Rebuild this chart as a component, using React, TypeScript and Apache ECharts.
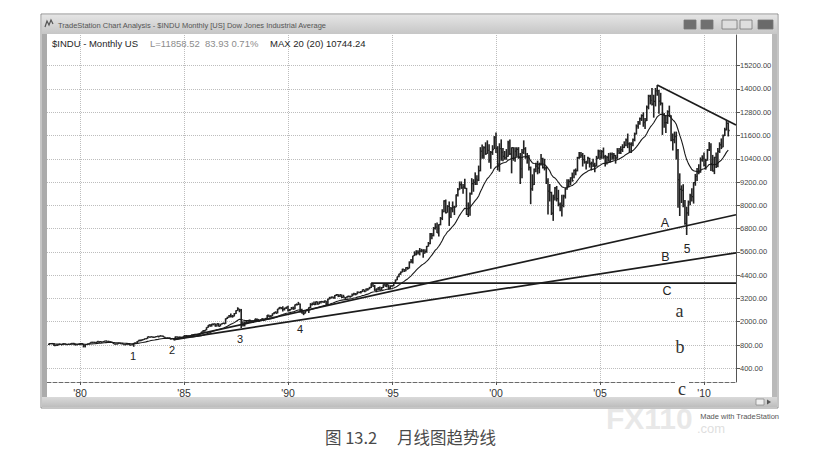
import React, { useEffect, useRef } from "react";
import * as echarts from "echarts";

// ---------- data (monthly, starting Jul 1978) ----------
const yTickValues = [400, 800, 2000, 3200, 4400, 5600, 6800, 8000, 9200, 10400, 11600, 12800, 14000, 15200];
const xTickYears = [1980, 1985, 1990, 1995, 2000, 2005, 2010];
const xTickLabels = ["'80", "'85", "'90", "'95", "'00", "'05", "'10"];

const closes = [
  862, 877, 866, 792, 799, 805,
  839, 809, 862, 855, 822, 842, 846, 888, 879, 816, 822, 839,
  876, 863, 786, 817, 851, 868, 935, 933, 932, 924, 993, 964,
  947, 975, 1004, 998, 992, 977, 952, 881, 850, 853, 889, 875,
  871, 824, 823, 848, 820, 812, 809, 901, 896, 992, 1039, 1047,
  1076, 1113, 1130, 1226, 1200, 1222, 1199, 1216, 1233, 1225, 1276, 1259,
  1221, 1155, 1165, 1171, 1105, 1132, 1115, 1224, 1207, 1207, 1189, 1212,
  1287, 1284, 1267, 1258, 1315, 1335, 1347, 1334, 1329, 1374, 1472, 1547,
  1571, 1709, 1819, 1784, 1877, 1893, 1775, 1898, 1768, 1878, 1914, 1896,
  2158, 2224, 2305, 2286, 2292, 2419, 2572, 2663, 2596, 1994, 1834, 1939,
  1958, 2072, 1988, 2032, 2031, 2142, 2129, 2032, 2113, 2149, 2115, 2169,
  2342, 2258, 2294, 2419, 2480, 2440, 2661, 2737, 2693, 2645, 2706, 2753,
  2591, 2627, 2707, 2657, 2877, 2881, 2905, 2614, 2452, 2442, 2560, 2634,
  2736, 2882, 2914, 2888, 3028, 2907, 3025, 3044, 3017, 3069, 2895, 3169,
  3223, 3268, 3235, 3359, 3397, 3319, 3394, 3257, 3272, 3226, 3305, 3301,
  3310, 3371, 3435, 3428, 3527, 3516, 3539, 3651, 3555, 3681, 3684, 3754,
  3978, 3832, 3636, 3682, 3758, 3625, 3765, 3913, 3843, 3908, 3739, 3834,
  3844, 4011, 4158, 4321, 4465, 4556, 4708, 4611, 4789, 4755, 5074, 5117,
  5395, 5486, 5587, 5569, 5643, 5655, 5529, 5616, 5882, 6029, 6522, 6448,
  6813, 6878, 6583, 7009, 7331, 7673, 8223, 7622, 7945, 7442, 7823, 7908,
  7907, 8546, 8800, 9063, 8900, 8952, 8883, 7539, 7843, 8592, 9117, 9181,
  9359, 9307, 9786, 10789, 10560, 10971, 10655, 10829, 10337, 10730, 10878, 11497,
  10941, 10128, 10922, 10734, 10522, 10448, 10522, 11215, 10651, 10971, 10414, 10788,
  10887, 10495, 9879, 10735, 10912, 10502, 10523, 9950, 8848, 9075, 9852, 10022,
  9920, 10106, 10404, 9946, 9925, 9243, 8737, 8664, 7592, 8397, 8896, 8342,
  8054, 7891, 7992, 8480, 8850, 8985, 9234, 9416, 9275, 9801, 9782, 10454,
  10488, 10584, 10358, 10226, 10188, 10435, 10140, 10174, 10080, 10027, 10428, 10783,
  10490, 10766, 10504, 10193, 10467, 10275, 10641, 10482, 10569, 10440, 10806, 10718,
  10865, 10993, 11109, 11367, 11168, 11150, 11186, 11381, 11679, 12081, 12222, 12463,
  12622, 12269, 12354, 13063, 13628, 13409, 13212, 13358, 13896, 13930, 13372, 13265,
  12650, 12266, 12263, 12820, 12638, 11350, 11378, 11544, 10851, 9325, 8829, 8776,
  8001, 7063, 7609, 8168, 8500, 8447, 9172, 9496, 9712, 9713, 10345, 10428,
  10067, 10325, 10857, 11009, 10137, 9774, 10466, 10015, 10788, 11118, 11006, 11578,
  11892, 12226, 11859,
];

const highs = [
  866, 892, 908, 902, 815, 821,
  858, 845, 866, 878, 860, 852, 853, 890, 898, 897, 830, 848,
  893, 903, 870, 825, 856, 887, 940, 967, 965, 965, 1000, 1000,
  1004, 978, 1015, 1031, 1000, 1012, 971, 955, 882, 880, 892, 895,
  882, 872, 836, 870, 871, 825, 842, 903, 939, 1008, 1072, 1080,
  1103, 1123, 1145, 1233, 1240, 1250, 1243, 1222, 1265, 1287, 1287, 1290,
  1287, 1225, 1190, 1180, 1185, 1145, 1140, 1245, 1240, 1230, 1235, 1220,
  1292, 1310, 1300, 1290, 1322, 1342, 1372, 1362, 1345, 1380, 1478, 1560,
  1575, 1715, 1830, 1880, 1895, 1905, 1915, 1905, 1925, 1885, 1940, 1960,
  2175, 2260, 2345, 2420, 2350, 2450, 2590, 2746, 2670, 2660, 2010, 2020,
  2050, 2090, 2110, 2065, 2065, 2160, 2160, 2140, 2125, 2185, 2165, 2190,
  2350, 2365, 2340, 2425, 2505, 2545, 2665, 2755, 2765, 2800, 2720, 2770,
  2820, 2660, 2760, 2780, 2890, 2945, 3025, 2935, 2670, 2540, 2580, 2660,
  2750, 2960, 2990, 3040, 3045, 3050, 3040, 3070, 3065, 3090, 3080, 3180,
  3285, 3300, 3300, 3380, 3430, 3420, 3420, 3400, 3390, 3280, 3320, 3350,
  3340, 3460, 3490, 3480, 3560, 3550, 3580, 3660, 3660, 3710, 3730, 3800,
  3990, 3990, 3900, 3720, 3780, 3820, 3790, 3930, 3960, 3950, 3920, 3880,
  3900, 4030, 4175, 4330, 4470, 4590, 4730, 4720, 4810, 4830, 5110, 5240,
  5400, 5630, 5690, 5690, 5800, 5760, 5740, 5740, 5910, 6110, 6570, 6580,
  6880, 7080, 7110, 7030, 7400, 7800, 8260, 8300, 8010, 8200, 7920, 8200,
  7980, 8560, 8900, 9230, 9230, 9100, 9370, 8900, 8150, 8660, 9400, 9350,
  9700, 9550, 10050, 11000, 11130, 11050, 11250, 11350, 11150, 10800, 11100, 11570,
  11750, 11050, 11200, 11400, 10950, 10800, 10900, 11330, 11400, 10990, 11000, 11000,
  11000, 11000, 10700, 10900, 11350, 11000, 10700, 10600, 10000, 9600, 9900, 10200,
  10300, 10200, 10650, 10450, 10400, 10000, 9400, 9100, 8700, 8550, 8950, 9000,
  8800, 8150, 8550, 8550, 8900, 9350, 9350, 9450, 9690, 9850, 9900, 10500,
  10750, 10750, 10700, 10600, 10300, 10500, 10450, 10250, 10400, 10200, 10550, 10870,
  10870, 10850, 10980, 10600, 10550, 10700, 10720, 10720, 10700, 10600, 10950, 10950,
  11050, 11150, 11300, 11450, 11700, 11250, 11250, 11450, 11750, 12170, 12350, 12530,
  12690, 12800, 12500, 13150, 13700, 13700, 14050, 13700, 14050, 14198, 13950, 13800,
  13300, 12760, 12620, 12900, 13140, 12650, 11700, 11800, 11800, 10900, 9650, 9030,
  9090, 8280, 7930, 8250, 8600, 8880, 9200, 9620, 9920, 10120, 10470, 10580,
  10730, 10400, 10900, 11260, 11200, 10600, 10500, 10720, 10950, 11250, 11450, 11650,
  12000, 12390, 12280,
];

const lows = [
  805, 858, 857, 785, 782, 784,
  803, 803, 806, 848, 818, 820, 824, 843, 865, 798, 796, 819,
  819, 854, 759, 759, 805, 844, 866, 917, 916, 914, 918, 908,
  938, 931, 965, 984, 960, 966, 940, 875, 824, 836, 845, 868,
  837, 820, 795, 818, 815, 788, 800, 770, 892, 890, 985, 990,
  1026, 1060, 1100, 1118, 1185, 1195, 1180, 1170, 1208, 1210, 1220, 1240,
  1210, 1135, 1130, 1135, 1100, 1090, 1078, 1110, 1190, 1175, 1180, 1160,
  1180, 1265, 1245, 1245, 1240, 1300, 1325, 1310, 1298, 1320, 1370, 1450,
  1480, 1560, 1690, 1745, 1750, 1815, 1750, 1760, 1750, 1760, 1860, 1880,
  1890, 2140, 2210, 2220, 2210, 2270, 2400, 2560, 2490, 1677, 1750, 1760,
  1880, 1940, 1970, 1960, 1940, 2020, 2085, 1990, 2020, 2100, 2040, 2100,
  2140, 2240, 2240, 2280, 2390, 2425, 2430, 2640, 2650, 2530, 2580, 2660,
  2530, 2540, 2620, 2620, 2640, 2840, 2860, 2480, 2430, 2340, 2420, 2540,
  2450, 2710, 2840, 2860, 2860, 2880, 2900, 2940, 2990, 2970, 2860, 2840,
  3150, 3200, 3200, 3180, 3330, 3270, 3280, 3220, 3240, 3120, 3210, 3260,
  3240, 3300, 3370, 3360, 3410, 3470, 3460, 3530, 3530, 3560, 3600, 3670,
  3740, 3800, 3590, 3520, 3630, 3610, 3620, 3740, 3820, 3780, 3660, 3680,
  3800, 3830, 3980, 4140, 4290, 4420, 4540, 4560, 4600, 4680, 4740, 5010,
  5000, 5390, 5420, 5460, 5420, 5590, 5300, 5520, 5560, 5870, 5990, 6250,
  6400, 6750, 6570, 6390, 6970, 7240, 7640, 7580, 7620, 6940, 7350, 7640,
  7500, 7900, 8450, 8800, 8850, 8600, 8850, 7500, 7400, 7470, 8550, 8700,
  9050, 9050, 9250, 9750, 10400, 10400, 10600, 10650, 10200, 9880, 10600, 10900,
  10700, 9800, 9730, 10300, 10270, 10350, 10350, 10500, 10600, 9650, 10300, 10250,
  10500, 10400, 9100, 9400, 10650, 10400, 10150, 9800, 8060, 8750, 9050, 9700,
  9600, 9650, 10050, 9900, 9800, 9100, 7530, 8200, 7500, 7200, 8250, 8200,
  7950, 7700, 7420, 7900, 8350, 8800, 8950, 9050, 9220, 9400, 9550, 9750,
  10400, 10450, 10000, 10150, 9850, 10150, 9950, 9800, 9980, 9700, 10000, 10400,
  10350, 10400, 10400, 10000, 10100, 10250, 10200, 10350, 10350, 10150, 10400, 10650,
  10650, 10750, 10950, 11050, 10950, 10700, 10700, 11050, 11300, 11650, 11950, 12150,
  12350, 12050, 11940, 12350, 12950, 13200, 13150, 12520, 13100, 13650, 12720, 13150,
  11630, 12000, 11730, 12200, 12550, 11300, 10830, 11200, 10360, 7880, 7450, 8120,
  7900, 7000, 6470, 7460, 8000, 8200, 8090, 9010, 9250, 9600, 9680, 10250,
  10000, 9840, 10300, 10800, 9770, 9740, 9610, 9930, 9970, 10700, 10900, 11000,
  11580, 11860, 11550,
];

// trend lines: two anchor points [month, price], extended to the right edge
const trendA: [string, number][] = [["1984-07", 1078], ["2009-03", 6950]];
const trendB: [string, number][] = [["1984-07", 1078], ["2009-03", 5160]];
const trendC: [string, number][] = [["1994-01", 3990], ["2011-03", 3990]];
const trendTop: [string, number][] = [["2007-10", 14198], ["2011-02", 12391]];

const EMA_LEN = 20;

// ---------- helpers ----------
const idxOf = (s: string) => {
  const [y, m] = s.split("-").map(Number);
  return (y - 1978) * 12 + (m - 7);
};
// the TradeStation price scale: equally spaced labels, linear between them
function toSlot(p: number) {
  const v = yTickValues;
  if (p <= v[1]) return (p - v[0]) / (v[1] - v[0]);
  for (let i = 1; i < v.length - 1; i++) {
    if (p <= v[i + 1]) return i + (p - v[i]) / (v[i + 1] - v[i]);
  }
  const n = v.length - 1;
  return n + (p - v[n]) / (v[n] - v[n - 1]);
}

const X_MIN = -1.04;
const X_MAX = 396.46;
const Y_MIN = -0.588;
const Y_MAX = 14.317;

function lineData(pts: [string, number][]) {
  const x1 = idxOf(pts[0][0]);
  const y1 = toSlot(pts[0][1]);
  const x2 = idxOf(pts[1][0]);
  const y2 = toSlot(pts[1][1]);
  const k = (y2 - y1) / (x2 - x1);
  return [
    [x1, y1],
    [X_MAX, y1 + k * (X_MAX - x1)],
  ];
}

const SANS = "'Liberation Sans', Arial, Helvetica, sans-serif";
const SERIF = "'Liberation Serif', 'Times New Roman', serif";
const CJK = "'Noto Sans CJK SC', sans-serif";

function txt(text: string, x: number, y: number, size: number, fill: string, extra: any = {}) {
  return {
    type: "text",
    x,
    y,
    z: extra.z || 100,
    silent: true,
    style: {
      text,
      fill,
      fontSize: size,
      fontFamily: extra.fontFamily || SANS,
      fontWeight: extra.fontWeight || "normal",
      align: extra.align || "left",
      textAlign: extra.align || "left",
      verticalAlign: "middle",
      textVerticalAlign: "middle",
    },
  };
}

export default function App() {
  const ref = useRef<HTMLDivElement>(null);

  useEffect(() => {
    if (!ref.current) return;
    const chart = echarts.init(ref.current, undefined, { renderer: "svg" });

    const bars = closes.map((c, i) => [i, toSlot(highs[i]), toSlot(lows[i]), toSlot(c)]);
    const alpha = 2 / (EMA_LEN + 1);
    let e = closes[0];
    const ema = closes.map((c, i) => {
      e = i === 0 ? c : e + alpha * (c - e);
      return [i, toSlot(e)];
    });

    const xTickIdx = xTickYears.map((y) => idxOf(`${y}-01`));
    const ySlots = yTickValues.map((_, i) => i);

    const trendStyle = { color: "#1c1c1c", width: 1.7 };

    const option: any = {
      animation: false,
      backgroundColor: "#ffffff",
      textStyle: { fontFamily: SANS },
      grid: { left: 47, right: 77, top: 35, bottom: 89, containLabel: false },
      xAxis: {
        type: "value",
        min: X_MIN,
        max: X_MAX,
        axisLine: { show: true, onZero: false, lineStyle: { color: "#6a6a6a", type: "dashed", width: 1 } },
        axisTick: { show: true, customValues: xTickIdx, length: 3, lineStyle: { color: "#555" } },
        axisLabel: {
          customValues: xTickIdx,
          formatter: (v: number) => {
            const k = xTickIdx.indexOf(Math.round(v));
            return k >= 0 ? xTickLabels[k] : "";
          },
          color: "#333",
          fontSize: 10.5,
          fontFamily: SANS,
          margin: 5,
        },
        splitLine: { show: false },
      },
      yAxis: {
        type: "value",
        position: "right",
        min: Y_MIN,
        max: Y_MAX,
        axisLine: { show: true, onZero: false, lineStyle: { color: "#555", width: 1 } },
        axisTick: { show: true, customValues: ySlots, length: 4, lineStyle: { color: "#555" } },
        axisLabel: {
          customValues: ySlots,
          formatter: (v: number) => {
            const k = Math.round(v);
            return yTickValues[k] !== undefined ? yTickValues[k].toFixed(2) : "";
          },
          color: "#444",
          fontSize: 7.5,
          fontFamily: SANS,
          margin: 4,
        },
        splitLine: { show: false },
      },
      series: [
        {
          type: "line",
          data: [],
          z: 1,
          silent: true,
          markLine: {
            silent: true,
            z: 1,
            symbol: ["none", "none"],
            label: { show: false },
            lineStyle: { color: "#bdbdbd", type: "dotted", width: 1 },
            data: [
              ...ySlots.map((s) => ({ yAxis: s })),
              ...xTickIdx.map((i) => ({ xAxis: i })),
            ],
          },
        },
        {
          type: "custom",
          z: 3,
          clip: true,
          silent: true,
          encode: { x: 0, y: [1, 2] },
          data: bars,
          renderItem: (_params: any, api: any) => {
            const x = api.value(0);
            const hi = api.coord([x, api.value(1)]);
            const lo = api.coord([x, api.value(2)]);
            const cl = api.coord([x, api.value(3)]);
            return {
              type: "group",
              children: [
                {
                  type: "line",
                  shape: { x1: hi[0], y1: hi[1], x2: lo[0], y2: lo[1] },
                  style: { stroke: "#222222", lineWidth: 1.6 },
                },
                {
                  type: "line",
                  shape: { x1: cl[0], y1: cl[1], x2: cl[0] + 1.4, y2: cl[1] },
                  style: { stroke: "#222222", lineWidth: 1.3 },
                },
              ],
            };
          },
        },
        {
          type: "line",
          data: ema,
          z: 4,
          symbol: "none",
          silent: true,
          lineStyle: { color: "#1a1a1a", width: 1.1 },
        },
        ...[trendA, trendB, trendC, trendTop].map((t) => ({
          type: "line",
          data: lineData(t),
          z: 5,
          symbol: "none",
          silent: true,
          lineStyle: trendStyle,
        })),
      ],
      graphic: [
        // window chrome
        {
          type: "rect",
          z: 50,
          silent: true,
          shape: { x: 41, y: 14, width: 737, height: 394 },
          style: { fill: "none", stroke: "#8c8c8c", lineWidth: 1 },
        },
        {
          type: "rect",
          z: 50,
          silent: true,
          shape: { x: 42, y: 15, width: 735, height: 19 },
          style: {
            fill: new echarts.graphic.LinearGradient(0, 0, 0, 1, [
              { offset: 0, color: "#e4e4e4" },
              { offset: 1, color: "#c6c6c6" },
            ]),
          },
        },
        {
          type: "rect",
          z: 50,
          silent: true,
          shape: { x: 42, y: 34, width: 5, height: 363 },
          style: { fill: "#ababab" },
        },
        {
          type: "rect",
          z: 50,
          silent: true,
          shape: { x: 772, y: 34, width: 5, height: 363 },
          style: { fill: "#b9b9b9" },
        },
        {
          type: "rect",
          z: 50,
          silent: true,
          shape: { x: 42, y: 397, width: 735, height: 10 },
          style: {
            fill: new echarts.graphic.LinearGradient(0, 0, 0, 1, [
              { offset: 0, color: "#dadada" },
              { offset: 1, color: "#bdbdbd" },
            ]),
          },
        },
        {
          type: "rect",
          z: 51,
          silent: true,
          shape: { x: 756, y: 399, width: 8, height: 6 },
          style: { fill: "#eeeeee", stroke: "#8a8a8a", lineWidth: 0.8 },
        },
        {
          type: "polygon",
          z: 51,
          silent: true,
          shape: { points: [[767, 399.5], [771, 402], [767, 404.5]] },
          style: { fill: "#555" },
        },
        // title bar icon and buttons
        {
          type: "polyline",
          z: 51,
          silent: true,
          shape: { points: [[45, 27], [47, 21], [49, 25], [51, 20], [53, 24]] },
          style: { stroke: "#555", lineWidth: 1.2, fill: "none" },
        },
        ...[
          [684, "#707070"],
          [701, "#707070"],
          [722, "#dedede"],
          [740, "#dedede"],
          [758, "#6a6a6a"],
        ].map(([x, c]) => ({
          type: "rect",
          z: 51,
          silent: true,
          shape: { x: x as number, y: 20, width: x === 722 || x === 758 ? 15 : 12, height: 9 },
          style: { fill: c as string, stroke: "#777", lineWidth: 0.8 },
        })),
        txt("TradeStation Chart Analysis - $INDU Monthly [US] Dow Jones Industrial Average", 58, 25, 7.5, "#555"),
        // header
        txt("$INDU - Monthly US", 52, 43, 9.5, "#1e1e1e"),
        txt("L=11858.52  83.93 0.71%", 150, 43, 9.5, "#8c8c8c"),
        txt("MAX 20 (20) 10744.24", 270, 43, 9.5, "#1e1e1e"),
        // pivot labels
        txt("1", 133, 355.5, 11, "#222", { align: "center" }),
        txt("2", 172, 350, 11, "#222", { align: "center" }),
        txt("3", 240, 338.5, 11, "#222", { align: "center" }),
        txt("4", 300, 328.5, 11, "#222", { align: "center" }),
        txt("5", 687, 249.3, 12, "#222", { align: "center" }),
        txt("A", 665, 222.8, 12.5, "#222", { align: "center" }),
        txt("B", 665.5, 256.7, 12.5, "#222", { align: "center" }),
        txt("C", 667, 290.8, 12.5, "#222", { align: "center" }),
        txt("a", 679.5, 310.6, 18, "#333", { align: "center", fontFamily: SERIF }),
        txt("b", 680, 346.6, 18, "#333", { align: "center", fontFamily: SERIF }),
        {
          type: "rect",
          z: 99,
          silent: true,
          shape: { x: 675, y: 379, width: 14, height: 6 },
          style: { fill: "#ffffff" },
        },
        txt("c", 682, 388.9, 18, "#333", { align: "center", fontFamily: SERIF }),
        // watermark (faint, kept clear of the other texts)
        txt("FX110", 606, 418, 30, "rgba(222,222,222,0.7)", { fontWeight: "bold", z: 90 }),
        txt(".com", 697, 428, 13, "rgba(212,212,212,0.75)", { z: 90 }),
        txt("Made with TradeStation", 779, 416, 7.5, "#555", { align: "right" }),
        // caption
        txt("图 13.2", 325, 437, 16.5, "#4a4a4a", { fontFamily: CJK }),
        txt("月线图趋势线", 397, 437, 16.5, "#4a4a4a", { fontFamily: CJK }),
      ],
    };

    chart.setOption(option);
    return () => chart.dispose();
  }, []);

  return (
    <div
      ref={ref}
      style={{ position: "fixed", left: 0, top: 0, width: 813, height: 471, background: "#ffffff" }}
    />
  );
}
